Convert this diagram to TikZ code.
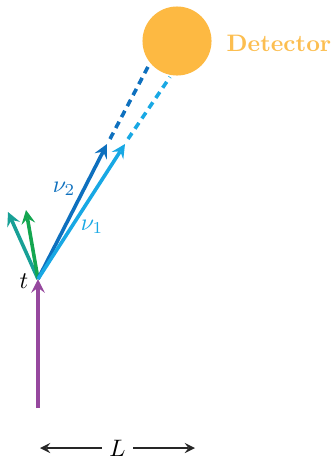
\documentclass[tikz,border=0pt]{standalone}
\usepackage{amsmath,amssymb}
\usepackage{tikz}
\definecolor{cpurple}{RGB}{150,72,158}
\definecolor{cteal}{RGB}{24,160,150}
\definecolor{cgreen}{RGB}{20,166,80}
\definecolor{cdark}{RGB}{14,112,190}
\definecolor{clight}{RGB}{24,168,228}
\definecolor{corange}{RGB}{253,185,66}
\definecolor{ctext}{RGB}{252,190,80}
\begin{document}
\begin{tikzpicture}[x=0.42pt, y=-0.42pt, >=stealth,
  particle/.style={line width=1.5pt, ->},
  faraway/.style={line width=1.5pt, dash pattern=on 3pt off 2.2pt},
  detector/.style={circle, fill=corange, minimum size=29pt, inner sep=0pt}
]
  \useasboundingbox (0,0) rectangle (333,459);
  \coordinate (V) at (38,279);
  \coordinate (top) at (38,408);
  \node[detector] (D) at (177,41) {};
  \node[text=ctext, font=\bfseries] (Dlabel) at (279,43) {Detector};
  \node (tlab) at (24,281) {$t$};

  \coordinate (teal) at (8,212);
  \coordinate (green) at (26,210);
  \coordinate (n2) at (107,144);
  \coordinate (n1) at (125,144);
  \coordinate (n2a) at (110,139);
  \coordinate (n2b) at (150,63);
  \coordinate (n1a) at (128,139);
  \coordinate (n1b) at (170,77);

  \draw[particle, cpurple] (top) -- (V);
  \draw[particle, cteal] (V) -- (teal);
  \draw[particle, cgreen] (V) -- (green);
  \draw[particle, cdark] (V) -- (n2);
  \draw[particle, clight] (V) -- (n1);
  \draw[faraway, cdark] (n2a) -- (n2b);
  \draw[faraway, clight] (n1a) -- (n1b);

  \node[text=cdark] (nu2) at (64,189) {$\nu_2$};
  \node[text=clight] (nu1) at (92,227) {$\nu_1$};

  \coordinate (La) at (40,448);
  \coordinate (Lb) at (195,448);
  \draw[<->, line width=0.9pt, black!85] (La) -- node[fill=white, inner sep=3pt, text=black] (Lnode) {$L$} (Lb);
\end{tikzpicture}
\end{document}
